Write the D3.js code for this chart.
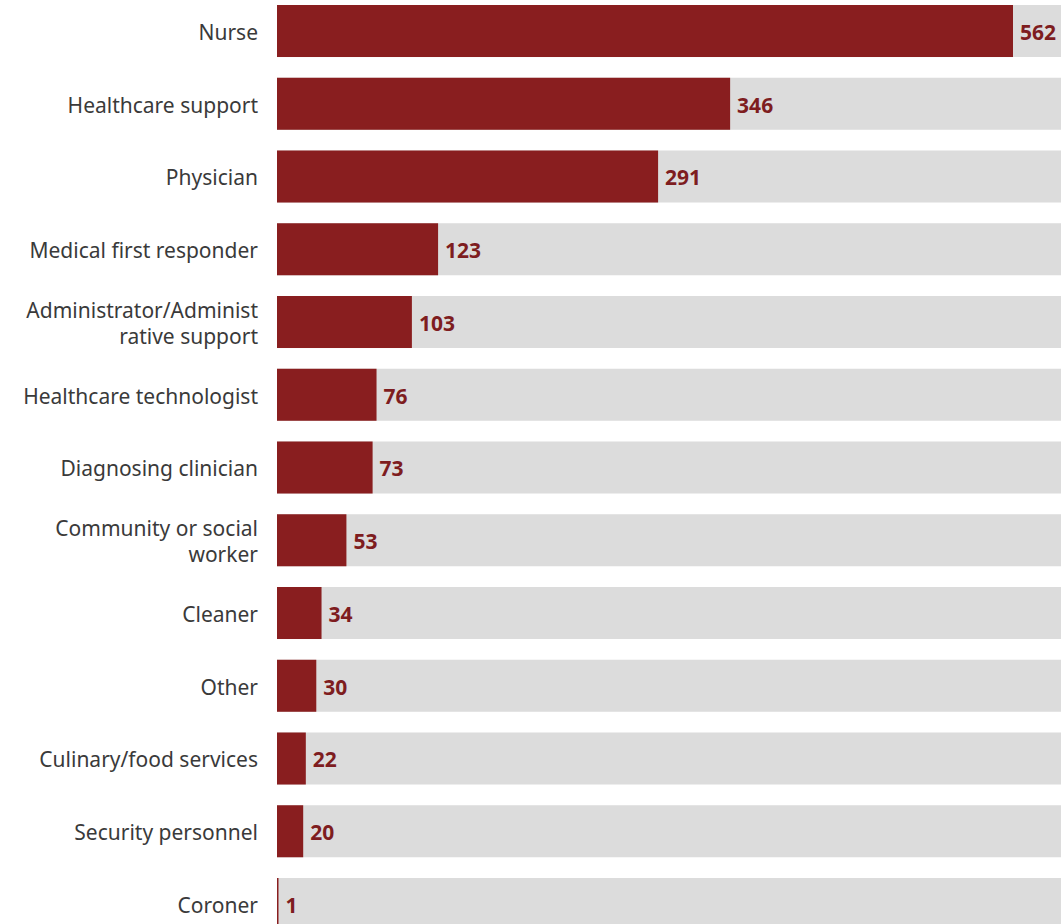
<!DOCTYPE html>
<meta charset="utf-8">
<style>
body { margin: 0; background: #fff; }
svg { display: block; }
.label { font: 21px "Noto Sans", sans-serif; fill: #3a3a3a; }
.value { font: bold 21px "Noto Sans", sans-serif; fill: #7e1d1f; }
</style>
<svg width="1061" height="924"></svg>
<script src="https://d3js.org/d3.v7.min.js"></script>
<script>

// categories and counts, top to bottom
var categories = ["Nurse", "Healthcare support", "Physician", "Medical first responder",
  "Administrator/Administ|rative support", "Healthcare technologist", "Diagnosing clinician",
  "Community or social|worker", "Cleaner", "Other", "Culinary/food services",
  "Security personnel", "Coroner"];
var counts = [562, 346, 291, 123, 103, 76, 73, 53, 34, 30, 22, 20, 1];

var svg = d3.select("svg"),
    width = +svg.attr("width"),
    height = +svg.attr("height");

var left = 277;

var x = d3.scaleLinear()
    .domain([0, 562])
    .range([left, 1013]);

var step = 72.75;
var y = d3.scaleBand()
    .domain(categories)
    .range([5 - step * 0.1425, 5 - step * 0.1425 + step * categories.length])
    .paddingInner(0.285)
    .paddingOuter(0.1425);

var rows = svg.selectAll("g.row")
    .data(categories)
    .enter().append("g")
    .attr("class", "row");

// grey background track
rows.append("rect")
    .attr("x", left)
    .attr("y", function(d) { return y(d); })
    .attr("width", width - left)
    .attr("height", y.bandwidth())
    .attr("fill", "#dcdcdc");

// value bar
rows.append("rect")
    .attr("x", left)
    .attr("y", function(d) { return y(d); })
    .attr("width", function(d, i) { return Math.max(1.5, x(counts[i]) - left); })
    .attr("height", y.bandwidth())
    .attr("fill", "#891e1f");

// value labels
rows.append("text")
    .attr("class", "value")
    .attr("x", function(d, i) { return Math.max(x(counts[i]), left + 1.5) + 7; })
    .attr("y", function(d) { return y(d) + y.bandwidth() / 2; })
    .attr("dy", "0.42em")
    .text(function(d, i) { return counts[i]; });

// category labels (| marks a line break)
rows.append("text")
    .attr("class", "label")
    .attr("text-anchor", "end")
    .attr("x", left - 19)
    .attr("y", function(d) { return y(d) + y.bandwidth() / 2; })
    .each(function(d) {
      var lines = d.split("|");
      var t = d3.select(this);
      lines.forEach(function(line, j) {
        t.append("tspan")
          .attr("x", left - 19)
          .attr("dy", j == 0 ? (0.42 - (lines.length - 1) * 0.62) + "em" : "1.24em")
          .text(line);
      });
    });

</script>
